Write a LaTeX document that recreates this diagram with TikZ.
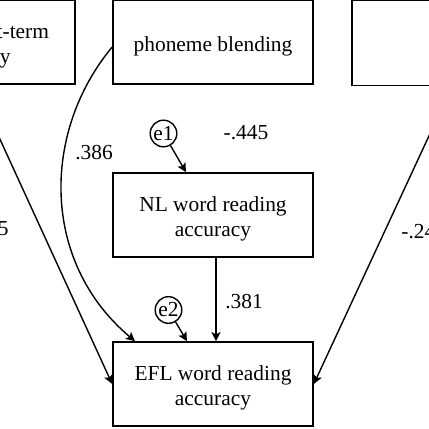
\documentclass[tikz,border=0pt]{standalone}
\usepackage{fontspec}
\setmainfont{Liberation Serif}
\usetikzlibrary{arrows.meta}
\newcommand{\vlift}{\rule{0pt}{11.5pt}}
\begin{document}
\begin{tikzpicture}[x=0.5pt,y=-0.5pt]
\tikzset{
	box/.style={draw=black, line width=0.8pt, minimum width=100pt, minimum height=42pt, inner sep=0pt, align=center, font=\fontsize{10.7}{12.4}\selectfont},
	err/.style={circle, draw=black, line width=0.7pt, minimum size=13.3pt, inner sep=0pt, font=\fontsize{10.7}{12}\selectfont},
	lab/.style={inner sep=0pt, font=\fontsize{10.7}{12}\selectfont},
	arr/.style={line width=0.7pt, -{Stealth[length=4.5pt, width=4.5pt, inset=1pt]}}
}
\useasboundingbox (0,0) rectangle (429,429);

% top row
\node[box] (stm) at(-25,42) {\vlift verbal short-term\\memory};
\node[box] (pb) at(213,42) {\vlift phoneme blending};
\node[box, minimum height=42.5pt] (rb) at(452,43) {};

% middle
\node[err] (e1) at(163.5,133.5) {e1};
\node[box] (nl) at(213,215) {\vlift NL word reading\\accuracy};

% bottom
\node[err] (e2) at(168.5,310) {e2};
\node[box] (efl) at(213,384) {\vlift EFL word reading\\accuracy};

% paths
\draw[arr] (e1) -- ([xshift=-13.5pt]nl.north);
\draw[arr] (e2) -- ([xshift=-13pt]efl.north);
\draw[arr] ([xshift=1.5pt]nl.south) -- ([xshift=1.5pt]efl.north);
\draw[arr] ([yshift=-2.5pt]pb.west) .. controls +(-70,84) and +(-95,-80) .. ([xshift=-39pt]efl.north);
\draw[arr] (stm.south) -- (efl.west);
\draw[arr] (rb.south) -- (efl.east);

% labels
\node[lab] (l_pb) at(94,153) {.386};
\node[lab] (l_rb) at(246,133) {-.445};
\node[lab] (l_nl) at(244,302) {.381};
\node[lab, anchor=east] (l_stm) at(9,229) {.345};
\node[lab, anchor=west] (l_rbe) at(401,232) {-.243};

\end{tikzpicture}
\end{document}
